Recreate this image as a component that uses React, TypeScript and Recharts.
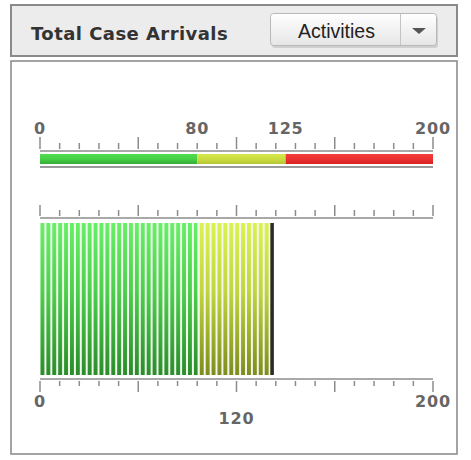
import React from "react";
import { BarChart, Bar, XAxis, YAxis } from "recharts";

// ---- data ----
const scaleMin = 0;
const scaleMax = 200;
const thresholds = [0, 80, 125, 200]; // range limits: green / yellow / red
const topScaleLabels = [0, 80, 125, 200];
const bottomScaleLabels = [0, 200];
const minorStep = 10;
const majorStep = 50;
const gaugeValue = 118;
const displayedValue = "120";
const titleText = "Total Case Arrivals";
const dropdownText = "Activities";

const bandData = [
  {
    name: "ranges",
    low: thresholds[1] - thresholds[0],
    mid: thresholds[2] - thresholds[1],
    high: thresholds[3] - thresholds[2],
  },
];
const valueData = [
  {
    name: "value",
    green: Math.min(gaugeValue, thresholds[1]),
    yellow: Math.max(0, gaugeValue - thresholds[1]),
  },
];

const minorTicks: number[] = [];
for (let v = scaleMin; v <= scaleMax; v += minorStep) minorTicks.push(v);
const topTicks = Array.from(new Set([...minorTicks, ...topScaleLabels])).sort((a, b) => a - b);

const FONT = "'DejaVu Sans', sans-serif";
const AXIS = "#8c8c8c";
const LABEL = "#666666";

function makeTick(dir: number, majorLen: number, minorLen: number, labels: number[], labelGap: number) {
  return (p: any) => {
    const v = p.payload.value;
    const x = p.x;
    const y = p.y;
    const isTick = v % minorStep === 0;
    const isMajor = v % majorStep === 0;
    const len = isMajor ? majorLen : minorLen;
    return (
      <g>
        {isTick && (
          <line x1={x} x2={x} y1={y} y2={y + dir * len} stroke={AXIS} strokeWidth={1.5} />
        )}
        {labels.includes(v) && (
          <text
            x={x}
            y={y + dir * labelGap}
            textAnchor="middle"
            fontFamily={FONT}
            fontWeight="bold"
            fontSize={16}
            fill={LABEL}
            letterSpacing={0.8}
          >
            {v}
          </text>
        )}
      </g>
    );
  };
}

const GreenShape = (p: any) => (
  <g>
    <rect x={p.x} y={p.y} width={p.width} height={p.height} fill="url(#valGreen)" />
    <rect x={p.x} y={p.y} width={p.width} height={p.height} fill="url(#stripes)" />
  </g>
);
const YellowShape = (p: any) => (
  <g>
    <rect x={p.x} y={p.y} width={p.width} height={p.height} fill="url(#valYellow)" />
    <rect x={p.x} y={p.y} width={p.width} height={p.height} fill="url(#stripes)" />
    <rect x={p.x + p.width - 1.5} y={p.y} width={3.5} height={p.height} fill="#2b2b2b" />
  </g>
);

export default function App() {
  return (
    <div style={{ position: "absolute", left: 0, top: 0, width: 471, height: 460, background: "#fff" }}>
      <svg width={471} height={460} style={{ position: "absolute", left: 0, top: 0 }}>
        <defs>
          <linearGradient id="btnGrad" x1="0" y1="0" x2="0" y2="1">
            <stop offset="0" stopColor="#ffffff" />
            <stop offset="1" stopColor="#e6e6e6" />
          </linearGradient>
        </defs>
        <rect x={11} y={5} width={446} height={51} fill="#ececec" stroke="#8a8a8a" strokeWidth={2} />
        <text x={31} y={40} fontFamily={FONT} fontWeight="bold" fontSize={18} fill="#333" letterSpacing={0.45}>
          {titleText}
        </text>
        <rect x={272} y={16} width={166} height={32} rx={3} fill="#d0d0d0" />
        <rect x={270.5} y={13.5} width={166} height={32} rx={3} fill="url(#btnGrad)" stroke="#b8b8b8" />
        <line x1={400.5} x2={400.5} y1={14} y2={45} stroke="#c4c4c4" />
        <text x={336.5} y={38} textAnchor="middle" fontFamily="'Liberation Sans', Arial, sans-serif" fontSize={19.5} fill="#222">
          {dropdownText}
        </text>
        <polygon points="412,28 426,28 419,34" fill="#555" />
        <rect x={11} y={61} width={446} height={393} fill="#fff" stroke="#8e8e8e" strokeWidth={1.6} />
      </svg>

      <div style={{ position: "absolute", left: 0, top: 115 }}>
        <BarChart
          width={471}
          height={60}
          data={bandData}
          layout="vertical"
          margin={{ top: 6, right: 38, bottom: 7, left: 40 }}
        >
          <defs>
            <linearGradient id="bandGreen" x1="0" y1="0" x2="0" y2="1">
              <stop offset="0" stopColor="#52dc52" />
              <stop offset="0.5" stopColor="#46d046" />
              <stop offset="1" stopColor="#36ac36" />
            </linearGradient>
            <linearGradient id="bandYellow" x1="0" y1="0" x2="0" y2="1">
              <stop offset="0" stopColor="#d6e84c" />
              <stop offset="0.5" stopColor="#cadc40" />
              <stop offset="1" stopColor="#b4c434" />
            </linearGradient>
            <linearGradient id="bandRed" x1="0" y1="0" x2="0" y2="1">
              <stop offset="0" stopColor="#f43c3c" />
              <stop offset="0.5" stopColor="#ec3030" />
              <stop offset="1" stopColor="#d42424" />
            </linearGradient>
          </defs>
          <XAxis
            xAxisId="top"
            type="number"
            domain={[scaleMin, scaleMax]}
            ticks={topTicks}
            interval={0}
            orientation="top"
            height={30}
            tickSize={0}
            tickLine={false}
            axisLine={{ stroke: AXIS, strokeWidth: 1.5 }}
            tick={makeTick(-1, 12, 6, topScaleLabels, 15)}
            allowDataOverflow
          />
          <XAxis
            xAxisId="bottom"
            type="number"
            domain={[scaleMin, scaleMax]}
            ticks={[scaleMin, scaleMax]}
            orientation="bottom"
            height={1}
            tickSize={0}
            tickLine={false}
            tick={() => <g />}
            axisLine={{ stroke: "#9a9a9a", strokeWidth: 2.2 }}
          />
          <YAxis type="category" dataKey="name" hide width={0} />
          <Bar xAxisId="top" dataKey="low" stackId="r" fill="url(#bandGreen)" barSize={10} isAnimationActive={false} />
          <Bar xAxisId="top" dataKey="mid" stackId="r" fill="url(#bandYellow)" barSize={10} isAnimationActive={false} />
          <Bar xAxisId="top" dataKey="high" stackId="r" fill="url(#bandRed)" barSize={10} isAnimationActive={false} />
        </BarChart>
      </div>

      <div style={{ position: "absolute", left: 0, top: 195 }}>
        <BarChart
          width={471}
          height={234}
          data={valueData}
          layout="vertical"
          margin={{ top: 0, right: 38, bottom: 5, left: 40 }}
        >
          <defs>
            <linearGradient id="valGreen" x1="0" y1="0" x2="0" y2="1">
              <stop offset="0" stopColor="#66f066" />
              <stop offset="0.45" stopColor="#4ccf4c" />
              <stop offset="1" stopColor="#2a8c2a" />
            </linearGradient>
            <linearGradient id="valYellow" x1="0" y1="0" x2="0" y2="1">
              <stop offset="0" stopColor="#dcf250" />
              <stop offset="0.45" stopColor="#c2d43e" />
              <stop offset="1" stopColor="#7e8c1c" />
            </linearGradient>
            <pattern id="stripes" patternUnits="userSpaceOnUse" x={40.5} y={0} width={5.9} height={460}>
              <rect x={3.9} y={0} width={2} height={460} fill="#f2f8ee" />
            </pattern>
          </defs>
          <XAxis
            xAxisId="top"
            type="number"
            domain={[scaleMin, scaleMax]}
            ticks={minorTicks}
            interval={0}
            orientation="top"
            height={23}
            tickSize={0}
            tickLine={false}
            axisLine={{ stroke: AXIS, strokeWidth: 1.5 }}
            tick={makeTick(-1, 11, 6, [], 0)}
            allowDataOverflow
          />
          <XAxis
            xAxisId="bottom"
            type="number"
            domain={[scaleMin, scaleMax]}
            ticks={minorTicks}
            interval={0}
            orientation="bottom"
            height={45}
            tickSize={0}
            tickLine={false}
            axisLine={{ stroke: AXIS, strokeWidth: 1.5 }}
            tick={makeTick(1, 11, 5, bottomScaleLabels, 26)}
            allowDataOverflow
            label={{
              value: displayedValue,
              position: "insideBottom",
              offset: 0,
              fill: LABEL,
              fontSize: 16,
              fontWeight: "bold",
              fontFamily: FONT,
              letterSpacing: 0.8,
            }}
          />
          <YAxis type="category" dataKey="name" hide width={0} />
          <Bar xAxisId="top" dataKey="green" stackId="v" barSize={152} shape={GreenShape} isAnimationActive={false} />
          <Bar xAxisId="top" dataKey="yellow" stackId="v" barSize={152} shape={YellowShape} isAnimationActive={false} />
        </BarChart>
      </div>
    </div>
  );
}
